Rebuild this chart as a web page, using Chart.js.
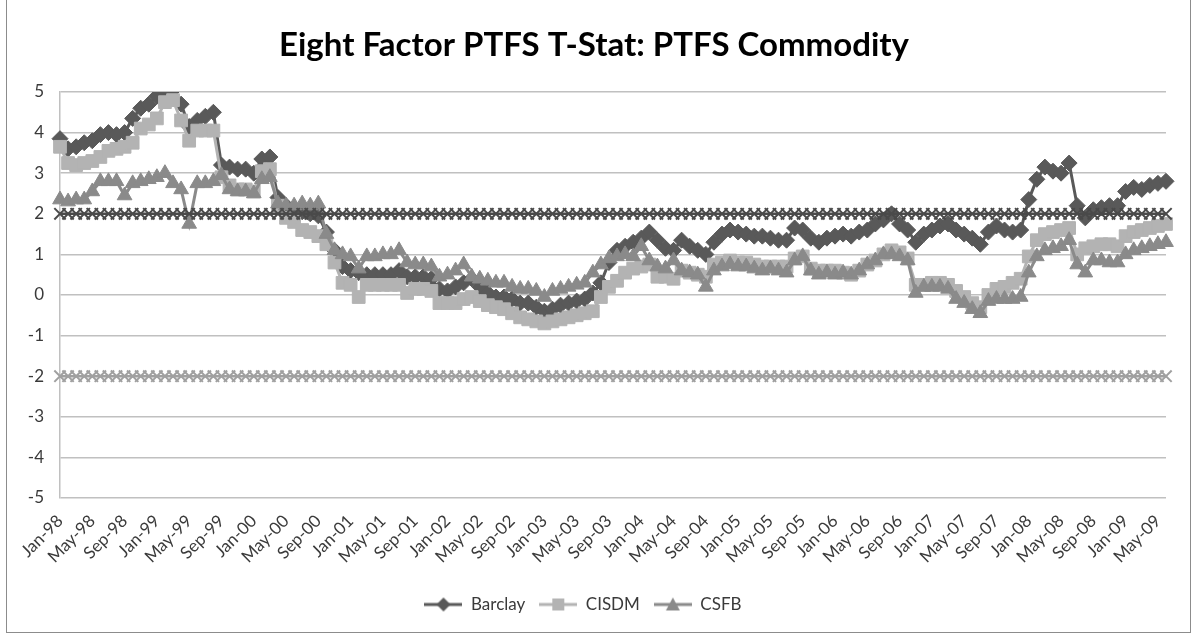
<!DOCTYPE html>
<html>
<head>
<meta charset="utf-8">
<title>PTFS Commodity T-Stat</title>
<script src="https://cdn.jsdelivr.net/npm/chart.js@4.4.0/dist/chart.umd.min.js"></script>
<style>
    html, body { margin: 0; padding: 0; background: #fff; }
    #wrap { position: relative; width: 1197px; height: 639px; }
</style>
</head>
<body>
<div id="wrap"><canvas id="tstatChart" width="1197" height="639"></canvas></div>
<script>
// monthly observations, Jan-98 .. Jun-09
const monthNames = ['Jan', 'Feb', 'Mar', 'Apr', 'May', 'Jun', 'Jul', 'Aug', 'Sep', 'Oct', 'Nov', 'Dec'];
const firstYear = 1998;
const monthCount = 138;
const categories = [];
for (let i = 0; i < monthCount; i++) {
    const yy = String((firstYear + Math.floor(i / 12)) % 100).padStart(2, '0');
    categories.push(monthNames[i % 12] + '-' + yy);
}

const barclay = [
    3.85, 3.6, 3.65, 3.75, 3.8, 3.95, 4.0, 3.95, 4.0, 4.35, 4.6, 4.7,
    4.9, 4.95, 5.05, 4.7, 4.15, 4.3, 4.4, 4.5, 3.2, 3.15, 3.1, 3.1,
    3.0, 3.35, 3.4, 2.4, 2.2, 2.1, 2.05, 2.0, 1.95, 1.55, 1.1, 0.7,
    0.6, 0.55, 0.5, 0.5, 0.5, 0.5, 0.6, 0.45, 0.45, 0.45, 0.4, 0.15,
    0.1, 0.2, 0.3, 0.4, 0.2, 0.05, -0.05, -0.05, -0.1, -0.2, -0.2, -0.3,
    -0.4, -0.35, -0.25, -0.2, -0.15, -0.1, 0.05, 0.3, 0.8, 1.1, 1.2, 1.3,
    1.4, 1.55, 1.35, 1.15, 1.1, 1.35, 1.2, 1.1, 1.0, 1.3, 1.5, 1.6,
    1.55, 1.5, 1.45, 1.45, 1.4, 1.35, 1.35, 1.65, 1.6, 1.4, 1.3, 1.4,
    1.45, 1.5, 1.45, 1.55, 1.6, 1.75, 1.85, 2.0, 1.75, 1.6, 1.3, 1.5,
    1.6, 1.7, 1.75, 1.6, 1.5, 1.4, 1.25, 1.55, 1.7, 1.6, 1.55, 1.6,
    2.35, 2.85, 3.15, 3.05, 3.0, 3.25, 2.2, 1.9, 2.1, 2.15, 2.2, 2.2,
    2.55, 2.65, 2.6, 2.7, 2.75, 2.8
];
const cisdm = [
    3.65, 3.25, 3.2, 3.25, 3.3, 3.4, 3.55, 3.6, 3.65, 3.75, 4.1, 4.2,
    4.35, 4.75, 4.8, 4.3, 3.8, 4.05, 4.05, 4.05, 2.9, 2.7, 2.6, 2.6,
    2.55, 3.05, 3.1, 2.2, 1.9, 1.8, 1.6, 1.55, 1.45, 1.25, 0.8, 0.3,
    0.25, -0.05, 0.25, 0.25, 0.25, 0.25, 0.25, 0.05, 0.15, 0.15, 0.1, -0.2,
    -0.2, -0.2, -0.1, -0.05, -0.15, -0.25, -0.3, -0.35, -0.45, -0.55, -0.6, -0.65,
    -0.7, -0.65, -0.6, -0.55, -0.5, -0.45, -0.4, -0.05, 0.2, 0.35, 0.55, 0.65,
    0.7, 0.75, 0.45, 0.45, 0.4, 0.6, 0.55, 0.5, 0.45, 0.75, 0.8, 0.85,
    0.8, 0.8, 0.75, 0.7, 0.7, 0.7, 0.7, 0.9, 0.95, 0.65, 0.6, 0.6,
    0.6, 0.55, 0.5, 0.6, 0.75, 0.85, 1.0, 1.1, 1.05, 0.9, 0.25, 0.25,
    0.3, 0.3, 0.25, 0.1, -0.05, -0.2, -0.3, 0.0, 0.15, 0.2, 0.3, 0.4,
    0.95, 1.35, 1.5, 1.55, 1.6, 1.65, 1.0, 1.15, 1.2, 1.25, 1.25, 1.2,
    1.45, 1.55, 1.6, 1.65, 1.7, 1.75
];
const csfb = [
    2.35, 2.3, 2.35, 2.35, 2.55, 2.8, 2.8, 2.8, 2.45, 2.75, 2.8, 2.85,
    2.9, 3.0, 2.75, 2.6, 1.75, 2.75, 2.75, 2.8, 2.95, 2.6, 2.55, 2.55,
    2.5, 2.85, 2.9, 2.25, 2.2, 2.2, 2.25, 2.2, 2.25, 1.5, 1.1, 1.0,
    0.95, 0.65, 0.95, 0.95, 1.0, 1.0, 1.1, 0.8, 0.75, 0.75, 0.7, 0.45,
    0.5, 0.6, 0.75, 0.45, 0.4, 0.35, 0.3, 0.3, 0.2, 0.15, 0.15, 0.1,
    -0.05, 0.1, 0.15, 0.2, 0.25, 0.3, 0.55, 0.75, 0.9, 0.95, 1.0, 0.95,
    1.2, 0.85, 0.7, 0.65, 0.85, 0.6, 0.55, 0.5, 0.2, 0.6, 0.7, 0.75,
    0.7, 0.7, 0.65, 0.6, 0.65, 0.6, 0.55, 0.85, 0.95, 0.6, 0.5, 0.55,
    0.5, 0.55, 0.5, 0.6, 0.75, 0.85, 1.0, 1.0, 0.95, 0.85, 0.05, 0.2,
    0.2, 0.2, 0.15, -0.1, -0.2, -0.35, -0.45, -0.15, -0.1, -0.1, -0.1, -0.05,
    0.55, 0.95, 1.1, 1.15, 1.2, 1.35, 0.75, 0.55, 0.85, 0.85, 0.8, 0.8,
    1.0, 1.1, 1.15, 1.2, 1.25, 1.3
];
// significance bands at +/-2
const upperBand = new Array(monthCount).fill(2);
const lowerBand = new Array(monthCount).fill(-2);

const yTicks = [5, 4, 3, 2, 1, 0, -1, -2, -3, -4, -5];

const chartTitle = 'Eight Factor PTFS T-Stat: PTFS Commodity';
const textColor = '#3a3a3a';
const gridColor = '#c0c0c0';
const uiFont = "Lato, 'Open Sans', sans-serif";

// small line+marker swatch for the legend
function legendSwatch(color, shape) {
    const c = document.createElement('canvas');
    c.width = 38;
    c.height = 18;
    const ctx = c.getContext('2d');
    ctx.strokeStyle = color;
    ctx.fillStyle = color;
    ctx.lineWidth = 3;
    ctx.beginPath();
    ctx.moveTo(0, 9);
    ctx.lineTo(38, 9);
    ctx.stroke();
    ctx.beginPath();
    if (shape === 'diamond') {
        ctx.moveTo(19, 2); ctx.lineTo(26, 9); ctx.lineTo(19, 16); ctx.lineTo(12, 9);
    } else if (shape === 'square') {
        ctx.rect(13, 3, 12, 12);
    } else {
        ctx.moveTo(19, 2); ctx.lineTo(26, 15); ctx.lineTo(12, 15);
    }
    ctx.closePath();
    ctx.fill();
    return c;
}

// outer border and the heading, placed by hand
const chartFrame = {
    id: 'chartFrame',
    afterDraw(chart) {
        const ctx = chart.ctx;
        ctx.save();
        ctx.strokeStyle = '#8c8c8c';
        ctx.lineWidth = 1;
        ctx.strokeRect(6.5, -0.5, 1184, 633);
        ctx.fillStyle = '#000';
        ctx.font = 'bold 33px ' + uiFont;
        ctx.textAlign = 'center';
        ctx.textBaseline = 'middle';
        ctx.fillText(chartTitle, 594, 45);
        ctx.restore();
    }
};

function seriesStyle(color, style, radius, order) {
    return {
        borderColor: color,
        backgroundColor: color,
        pointBackgroundColor: color,
        pointBorderColor: color,
        pointStyle: style,
        pointRadius: radius,
        pointHoverRadius: radius,
        pointBorderWidth: 1,
        borderWidth: 3,
        tension: 0,
        order: order
    };
}

function bandStyle(color, order) {
    return {
        borderColor: color,
        pointStyle: 'crossRot',
        pointRadius: 8,
        pointHoverRadius: 8,
        pointBorderWidth: 2,
        pointBorderColor: color,
        pointBackgroundColor: color,
        borderWidth: 2.5,
        order: order
    };
}

new Chart(document.getElementById('tstatChart'), {
    type: 'line',
    data: {
        labels: categories,
        datasets: [
            Object.assign({ label: 'Barclay', data: barclay, swatch: legendSwatch('#595959', 'diamond') },
                seriesStyle('#595959', 'rectRot', 8, 5)),
            Object.assign({ label: 'CISDM', data: cisdm, swatch: legendSwatch('#b3b3b3', 'square') },
                seriesStyle('#b3b3b3', 'rect', 9, 4)),
            Object.assign({ label: 'CSFB', data: csfb, swatch: legendSwatch('#8a8a8a', 'triangle') },
                seriesStyle('#8a8a8a', 'triangle', 8.5, 3)),
            Object.assign({ label: 'upper', data: upperBand }, bandStyle('#4a4a4a', 2)),
            Object.assign({ label: 'lower', data: lowerBand }, bandStyle('#a0a0a0', 1))
        ]
    },
    options: {
        responsive: false,
        animation: false,
        layout: { padding: { left: 0, right: 31, top: 92, bottom: 16 } },
        plugins: {
            tooltip: { enabled: false },
            title: { display: false },
            legend: {
                position: 'bottom',
                labels: {
                    color: textColor,
                    font: { family: uiFont, size: 17 },
                    usePointStyle: true,
                    pointStyleWidth: 38,
                    padding: 14,
                    filter: item => item.datasetIndex < 3,
                    sort: (a, b) => a.datasetIndex - b.datasetIndex,
                    generateLabels: chart => chart.data.datasets.map((ds, i) => ({
                        text: ds.label,
                        fontColor: textColor,
                        pointStyle: ds.swatch,
                        lineWidth: 0,
                        strokeStyle: 'transparent',
                        fillStyle: 'transparent',
                        hidden: false,
                        datasetIndex: i
                    }))
                }
            }
        },
        scales: {
            x: {
                offset: false,
                grid: { display: false },
                border: { display: false },
                ticks: {
                    autoSkip: false,
                    maxRotation: 45,
                    minRotation: 45,
                    color: textColor,
                    padding: 5,
                    font: { family: uiFont, size: 17 },
                    callback: (value, index) => index % 4 === 0 ? categories[index] : ''
                },
                afterFit: scale => { scale.height = 84; }
            },
            y: {
                min: -5,
                max: 5,
                afterBuildTicks: scale => { scale.ticks = yTicks.map(v => ({ value: v })); },
                grid: { color: gridColor, lineWidth: 1.5, drawTicks: false },
                border: { display: true, color: gridColor, width: 1.5 },
                ticks: {
                    color: textColor,
                    padding: 16,
                    font: { family: uiFont, size: 17 }
                },
                afterFit: scale => { scale.width = 60; }
            }
        }
    },
    plugins: [chartFrame]
});
</script>
</body>
</html>
